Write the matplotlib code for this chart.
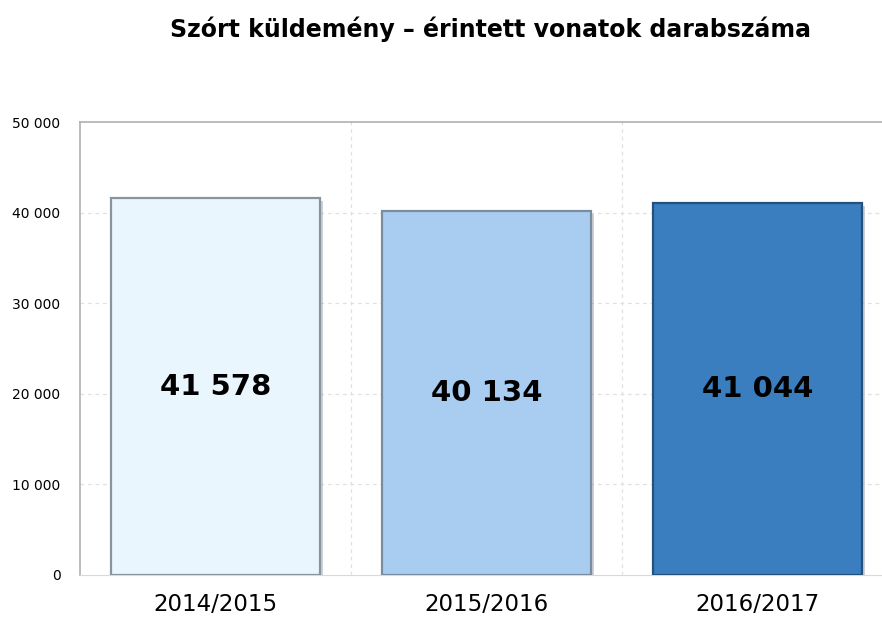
import matplotlib

matplotlib.use("Agg")
import matplotlib.pyplot as plt
import matplotlib.patheffects as pe
from matplotlib.ticker import FuncFormatter

seasons = ["2014/2015", "2015/2016", "2016/2017"]
trains = [41578, 40134, 41044]
bar_colors = ["#EAF6FE", "#A9CDF1", "#3A7EC0"]
edge_colors = ["#8A949D", "#7A8DA0", "#24507C"]
title = "Szórt küldemény – érintett vonatok darabszáma"


def space_thousands(v, _pos=None):
    return f"{int(v):,}".replace(",", " ")


fig = plt.figure(figsize=(8.82, 6.18), dpi=100)
ax = fig.add_axes([80 / 882, 43 / 618, 813 / 882, 453 / 618])

x = range(len(seasons))
bars = ax.bar(x, trains, width=0.77, color=bar_colors, edgecolor=edge_colors,
              linewidth=1.6, zorder=3)
for b in bars:
    b.set_path_effects([pe.SimplePatchShadow(offset=(2, -2), shadow_rgbFace="#9aa3ab", alpha=0.5),
                        pe.Normal()])

for xi, v in zip(x, trains):
    ax.text(xi, v / 2, space_thousands(v), ha="center", va="center",
            fontsize=21, fontweight="bold", color="black", zorder=4)

ax.set_xlim(-0.5, 2.5)
ax.set_ylim(0, 50000)
ax.set_yticks(range(0, 50001, 10000))
ax.yaxis.set_major_formatter(FuncFormatter(space_thousands))
ax.set_xticks(list(x))
ax.set_xticklabels(seasons, fontsize=16.5)
ax.tick_params(axis="x", length=0, pad=13)
ax.tick_params(axis="y", length=0, labelsize=10, pad=14)

# dashed grid: horizontal at ticks, vertical between categories
for yv in range(10000, 50000, 10000):
    ax.axhline(yv, color="#e0e0e0", linestyle=(0, (3, 3)), linewidth=0.9, zorder=1)
for xv in [0.5, 1.5]:
    ax.axvline(xv, color="#e0e0e0", linestyle=(0, (3, 3)), linewidth=0.9, zorder=1)

for side in ["left", "top"]:
    ax.spines[side].set_color("#b0b0b0")
    ax.spines[side].set_linewidth(1.2)
ax.spines["bottom"].set_color("#d9d9d9")
ax.spines["right"].set_visible(False)

fig.text(490 / 882, 1 - 29 / 618, title, ha="center", va="center",
         fontsize=17, fontweight="bold")

fig.savefig("out.png", dpi=100)
